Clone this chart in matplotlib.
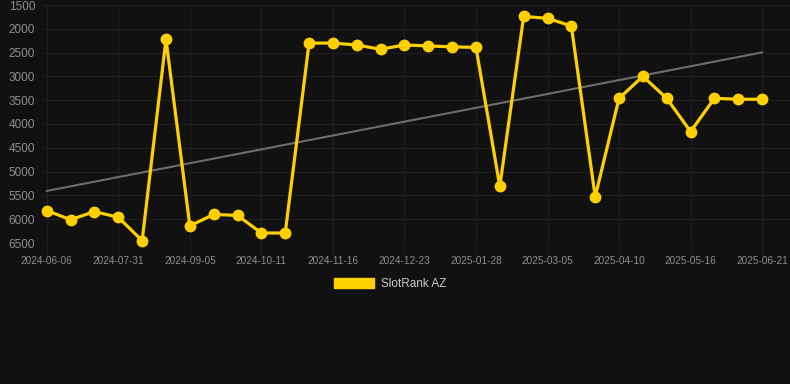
import numpy as np
import matplotlib
matplotlib.use('Agg')
import matplotlib.pyplot as plt
from matplotlib.patches import Patch

# Rank values, one per sample (lower rank = better, so the axis is inverted)
ranks = [5820, 6010, 5840, 5960, 6450, 2220, 6140, 5900, 5920, 6290,
         6290, 2300, 2300, 2340, 2430, 2340, 2360, 2380, 2390, 5310,
         1740, 1780, 1940, 5530, 3460, 3000, 3460, 4160, 3460, 3480,
         3480]

# Date labels shown on the x axis (every 3rd sample)
tick_labels = ['2024-06-06', '2024-07-31', '2024-09-05', '2024-10-11',
               '2024-11-16', '2024-12-23', '2025-01-28', '2025-03-05',
               '2025-04-10', '2025-05-16', '2025-06-21']
y_ticks = [1500, 2000, 2500, 3000, 3500, 4000, 4500, 5000, 5500, 6000, 6500]

bg = '#111111'
gold = '#FFD000'

plt.rcParams['font.family'] = ['Liberation Sans', 'DejaVu Sans']

fig = plt.figure(figsize=(7.9, 3.84), dpi=100, facecolor=bg)
ax = fig.add_axes([42 / 790, 1 - 243 / 384, 748 / 790, 238 / 384])
ax.set_facecolor(bg)

x = np.arange(len(ranks))

# linear trend line over the whole series
coef = np.polyfit(x, ranks, 1)
ax.plot(x, np.polyval(coef, x), color='#6e6e6e', linewidth=1.5, zorder=2)

ax.plot(x, ranks, color=gold, linewidth=2.3, marker='o', markersize=7.5,
        solid_joinstyle='miter', zorder=3, clip_on=False)

ax.set_ylim(6500, 1500)
ax.set_xlim(-0.2, 31.17)
ax.set_yticks(y_ticks)
ax.set_xticks(x[::3])
ax.set_xticklabels(tick_labels)

ax.grid(True, color='#1f1f1f', linewidth=0.8)
for s in ax.spines.values():
    s.set_visible(False)
ax.tick_params(axis='y', length=0, pad=5, labelsize=8.5, labelcolor='#8f8f8f')
ax.tick_params(axis='x', length=8, color='#1f1f1f', pad=1, labelsize=7.2, labelcolor='#8f8f8f')

handle = Patch(facecolor=gold, edgecolor=gold)
fig.legend([handle], ['SlotRank AZ'], loc='center', bbox_to_anchor=(0.494, 1 - 284 / 384),
           frameon=False, fontsize=8.5, labelcolor='#cccccc',
           handlelength=3.4, handleheight=1.0, handletextpad=0.6)

fig.savefig('out.png', dpi=100, facecolor=bg)
